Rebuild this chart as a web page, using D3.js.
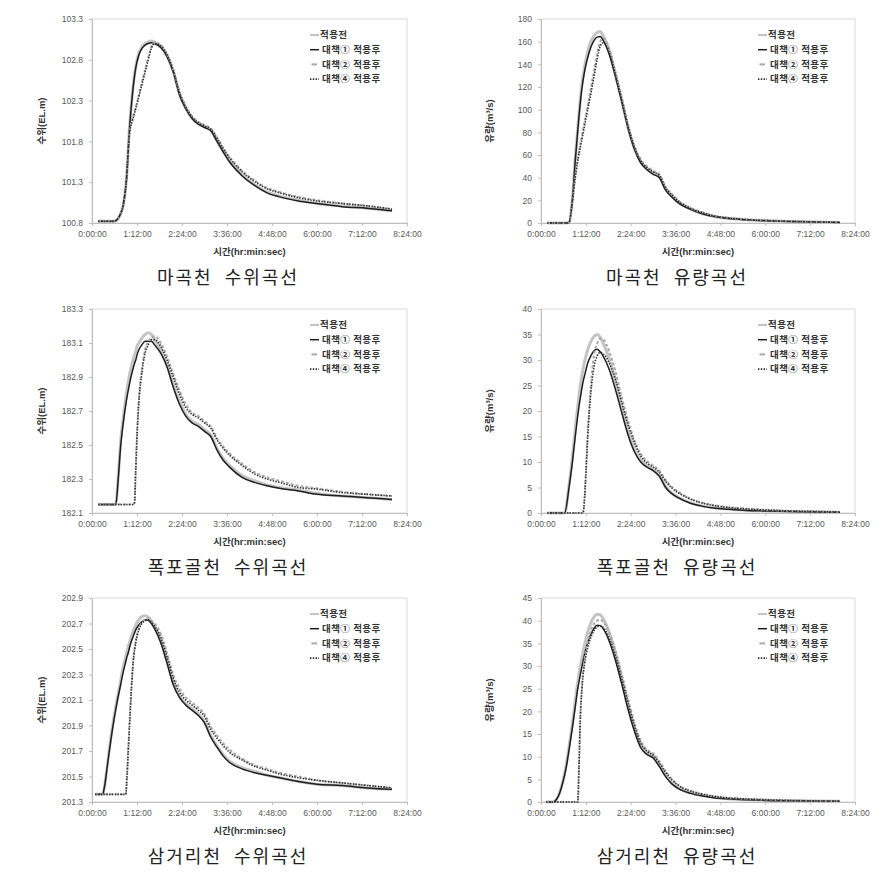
<!DOCTYPE html>
<html>
<head>
<meta charset="utf-8">
<script src="https://cdn.jsdelivr.net/npm/d3@7"></script>
<style>
  body { margin: 0; background: #fff; }
  svg { display: block; font-family: "Liberation Sans", Arial, "Noto Sans CJK KR", sans-serif; }
</style>
</head>
<body>
<div id="main"></div>
<script>
// series names (legend)
const seriesNames = ["적용전", "대책① 적용후", "대책② 적용후", "대책④ 적용후"];

// x axis: minutes, tick every 1:12:00
const xTicks = [0, 72, 144, 216, 288, 360, 432, 504];

// ---- 마곡천 수위 ----
const magokWlTime = [10, 35, 40, 45, 50, 55, 60, 65, 70, 75, 80, 85, 90, 95, 100, 110, 120, 130, 140, 150, 160, 170, 180, 190, 200, 210, 220, 240, 260, 280, 300, 330, 360, 400, 440, 480];
const magokWlBefore = [100.82, 100.82, 100.84, 100.9, 101.02, 101.33, 101.97, 102.42, 102.72, 102.88, 102.96, 103.0, 103.02, 103.03, 103.02, 102.97, 102.86, 102.66, 102.38, 102.21, 102.09, 102.02, 101.98, 101.94, 101.81, 101.68, 101.56, 101.39, 101.27, 101.18, 101.13, 101.08, 101.04, 101.01, 100.98, 100.95];
const magokWlAlt1 = [100.82, 100.82, 100.84, 100.9, 101.02, 101.32, 101.95, 102.4, 102.7, 102.86, 102.94, 102.98, 103.0, 103.01, 103.0, 102.95, 102.84, 102.65, 102.37, 102.2, 102.08, 102.01, 101.97, 101.93, 101.8, 101.67, 101.55, 101.38, 101.26, 101.17, 101.12, 101.07, 101.04, 101.0, 100.98, 100.95];
const magokWlAlt2 = [100.82, 100.82, 100.84, 100.9, 101.02, 101.32, 101.92, 102.08, 102.22, 102.37, 102.53, 102.68, 102.83, 102.96, 103.01, 102.98, 102.87, 102.68, 102.41, 102.23, 102.11, 102.04, 102.0, 101.96, 101.85, 101.72, 101.61, 101.44, 101.32, 101.23, 101.18, 101.12, 101.08, 101.04, 101.01, 100.97];
const magokWlAlt4 = [100.82, 100.82, 100.84, 100.9, 101.02, 101.32, 101.9, 102.06, 102.2, 102.35, 102.5, 102.65, 102.8, 102.94, 103.0, 102.97, 102.86, 102.67, 102.4, 102.22, 102.1, 102.03, 101.99, 101.95, 101.84, 101.71, 101.6, 101.43, 101.31, 101.22, 101.17, 101.11, 101.07, 101.04, 101.01, 100.97];
const magokWlTicks = [100.8, 101.3, 101.8, 102.3, 102.8, 103.3];

// ---- 마곡천 유량 ----
const magokQTime = [10, 40, 45, 50, 55, 60, 65, 70, 75, 80, 85, 90, 95, 100, 110, 120, 130, 140, 150, 160, 170, 180, 190, 200, 210, 220, 240, 260, 280, 300, 330, 360, 400, 440, 480];
const magokQBefore = [0, 0, 0.5, 19, 57, 90, 119, 138, 151, 160, 165, 168, 169, 165, 151, 130, 107, 84, 66, 54, 48, 44, 41, 30, 23.5, 18.5, 12.3, 8.2, 5.6, 4.1, 2.9, 2.1, 1.3, 0.8, 0.5];
const magokQAlt1 = [0, 0, 0.5, 18, 55, 88, 116, 134, 146, 155, 161, 164, 164.5, 161, 148, 128, 106, 83, 65, 53, 47, 43, 40, 29, 23, 18, 12, 8, 5.5, 4, 2.8, 2, 1.3, 0.8, 0.5];
const magokQAlt2 = [0, 0, 0.5, 18, 41, 60, 75, 90, 104, 119, 134, 149, 160, 163, 153, 132, 110, 86, 68, 56, 50, 46, 43, 32, 25.5, 20, 13.3, 9.2, 6.2, 4.6, 3.1, 2.3, 1.5, 1, 0.6];
const magokQAlt4 = [0, 0, 0.5, 18, 40, 58, 72, 86, 100, 114, 129, 144, 156, 159, 150, 130, 108, 85, 67, 55, 49, 45, 42, 31, 25, 19.5, 13, 9, 6, 4.5, 3, 2.2, 1.5, 1, 0.6];
const magokQTicks = [0, 20, 40, 60, 80, 100, 120, 140, 160, 180];

// ---- 폭포골천 수위 ----
const pokpoWlTime = [10, 38, 42, 46, 50, 55, 60, 65, 68, 70, 72, 75, 80, 85, 90, 95, 100, 110, 120, 130, 140, 150, 160, 170, 180, 190, 200, 210, 220, 240, 260, 280, 300, 330, 360, 400, 440, 480];
const pokpoWlBefore = [182.15, 182.15, 182.32, 182.53, 182.66, 182.8, 182.91, 182.99, 183.03, 183.05, 183.08, 183.1, 183.13, 183.15, 183.16, 183.15, 183.12, 183.06, 182.97, 182.86, 182.76, 182.68, 182.64, 182.62, 182.59, 182.56, 182.48, 182.42, 182.38, 182.32, 182.29, 182.265, 182.25, 182.235, 182.215, 182.2, 182.19, 182.18];
const pokpoWlAlt1 = [182.15, 182.15, 182.3, 182.5, 182.63, 182.76, 182.86, 182.94, 182.98, 183.0, 183.03, 183.06, 183.09, 183.11, 183.11, 183.11, 183.09, 183.04, 182.96, 182.84, 182.74, 182.67, 182.63, 182.61, 182.58, 182.55, 182.47, 182.41, 182.37, 182.31, 182.28, 182.26, 182.245, 182.23, 182.21, 182.2, 182.19, 182.18];
const pokpoWlAlt2 = [182.15, 182.15, 182.15, 182.15, 182.15, 182.15, 182.15, 182.15, 182.16, 182.36, 182.56, 182.77, 182.95, 183.06, 183.11, 183.13, 183.14, 183.1, 183.02, 182.92, 182.82, 182.74, 182.69, 182.67, 182.64, 182.61, 182.54, 182.49, 182.45, 182.39, 182.34, 182.31, 182.29, 182.26, 182.245, 182.225, 182.21, 182.2];
const pokpoWlAlt4 = [182.15, 182.15, 182.15, 182.15, 182.15, 182.15, 182.15, 182.15, 182.16, 182.35, 182.55, 182.75, 182.93, 183.04, 183.09, 183.12, 183.12, 183.08, 183.0, 182.9, 182.8, 182.72, 182.68, 182.66, 182.63, 182.6, 182.53, 182.48, 182.44, 182.38, 182.33, 182.3, 182.28, 182.25, 182.24, 182.22, 182.21, 182.2];
const pokpoWlTicks = [182.1, 182.3, 182.5, 182.7, 182.9, 183.1, 183.3];

// ---- 폭포골천 유량 ----
const pokpoQTime = [10, 38, 45, 50, 55, 60, 65, 68, 70, 72, 75, 80, 85, 90, 95, 100, 110, 120, 130, 140, 150, 160, 170, 180, 190, 200, 210, 220, 240, 260, 280, 300, 330, 360, 400, 440, 480];
const pokpoQBefore = [0, 0, 5.5, 10.5, 16.5, 22, 26.5, 28.5, 29.7, 30.7, 32, 33.6, 34.6, 35, 34.5, 33.2, 30, 25.5, 20.5, 16, 12.5, 10.4, 9.3, 8.5, 7.4, 5.2, 3.9, 3.1, 2, 1.35, 1, 0.78, 0.52, 0.4, 0.3, 0.2, 0.15];
const pokpoQAlt1 = [0, 0, 5, 9.6, 15, 20, 24, 26, 27, 28, 29.4, 30.8, 31.8, 32.1, 31.6, 30.7, 28, 24, 19.5, 15.2, 12, 10, 9, 8.3, 7.2, 5, 3.8, 3, 1.9, 1.3, 0.95, 0.75, 0.5, 0.4, 0.3, 0.2, 0.15];
const pokpoQAlt2 = [0, 0, 0, 0, 0, 0, 0, 0.3, 3.2, 7.8, 15.5, 25, 31, 33.2, 34.2, 34, 31.5, 27.5, 22.5, 18, 14.3, 11.6, 10.2, 9.3, 8.3, 6.5, 5.1, 4.2, 2.8, 2, 1.5, 1.15, 0.85, 0.6, 0.4, 0.3, 0.2];
const pokpoQAlt4 = [0, 0, 0, 0, 0, 0, 0, 0.3, 3, 7.5, 15, 23.5, 28.6, 30.8, 31.5, 31.2, 29.3, 26, 21.5, 17.2, 13.8, 11.2, 9.8, 9, 8, 6.2, 4.9, 4, 2.7, 1.9, 1.4, 1.1, 0.8, 0.6, 0.4, 0.3, 0.2];
const pokpoQTicks = [0, 5, 10, 15, 20, 25, 30, 35, 40];

// ---- 삼거리천 수위 ----
const samgeoWlTime = [5, 17, 20, 25, 30, 35, 40, 45, 50, 54, 56, 58, 60, 63, 66, 70, 75, 80, 85, 90, 95, 100, 110, 120, 130, 140, 150, 160, 170, 180, 190, 200, 210, 220, 240, 260, 280, 300, 330, 360, 400, 440, 480];
const samgeoWlBefore = [201.36, 201.36, 201.42, 201.61, 201.8, 201.96, 202.1, 202.23, 202.36, 202.44, 202.48, 202.52, 202.55, 202.6, 202.64, 202.69, 202.73, 202.755, 202.76, 202.75, 202.72, 202.68, 202.57, 202.41, 202.24, 202.13, 202.07, 202.03, 201.99, 201.93, 201.82, 201.74, 201.67, 201.62, 201.57, 201.54, 201.51, 201.49, 201.46, 201.44, 201.43, 201.41, 201.4];
const samgeoWlAlt1 = [201.36, 201.36, 201.42, 201.6, 201.78, 201.94, 202.08, 202.2, 202.32, 202.4, 202.44, 202.47, 202.51, 202.56, 202.6, 202.65, 202.69, 202.715, 202.73, 202.725, 202.7, 202.66, 202.55, 202.39, 202.22, 202.12, 202.06, 202.02, 201.98, 201.92, 201.81, 201.73, 201.66, 201.61, 201.56, 201.53, 201.51, 201.49, 201.46, 201.44, 201.43, 201.41, 201.4];
const samgeoWlAlt2 = [201.36, 201.36, 201.36, 201.36, 201.36, 201.36, 201.36, 201.36, 201.36, 201.36, 201.5, 201.71, 201.91, 202.19, 202.41, 202.56, 202.66, 202.71, 202.73, 202.74, 202.72, 202.7, 202.62, 202.47, 202.3, 202.19, 202.12, 202.08, 202.04, 201.99, 201.89, 201.82, 201.76, 201.71, 201.64, 201.59, 201.56, 201.53, 201.5, 201.47, 201.45, 201.43, 201.41];
const samgeoWlAlt4 = [201.36, 201.36, 201.36, 201.36, 201.36, 201.36, 201.36, 201.36, 201.36, 201.36, 201.5, 201.7, 201.9, 202.18, 202.4, 202.55, 202.65, 202.7, 202.72, 202.73, 202.71, 202.68, 202.59, 202.44, 202.27, 202.16, 202.1, 202.06, 202.02, 201.97, 201.87, 201.8, 201.74, 201.69, 201.63, 201.58, 201.55, 201.52, 201.49, 201.47, 201.45, 201.43, 201.41];
const samgeoWlTicks = [201.3, 201.5, 201.7, 201.9, 202.1, 202.3, 202.5, 202.7, 202.9];

// ---- 삼거리천 유량 ----
const samgeoQTime = [8, 20, 25, 30, 35, 40, 45, 50, 55, 59, 61, 63, 66, 70, 75, 80, 85, 90, 95, 100, 110, 120, 130, 140, 150, 160, 170, 180, 190, 200, 210, 220, 240, 260, 280, 300, 330, 360, 400, 440, 480];
const samgeoQBefore = [0, 0, 0.6, 2.1, 4.6, 7.8, 12.2, 17, 22.3, 26.5, 28.2, 29.8, 32, 34.7, 37.5, 39.5, 40.8, 41.4, 41.3, 40.4, 37.2, 32.5, 27, 21.3, 16.3, 12.6, 11, 10.3, 8.2, 5.9, 4.2, 3.1, 2, 1.35, 0.95, 0.72, 0.52, 0.36, 0.26, 0.2, 0.15];
const samgeoQAlt1 = [0, 0, 0.6, 2, 4.3, 7.3, 11.5, 16, 21, 25, 26.5, 28, 30, 32.6, 35.2, 37, 38.3, 39, 38.9, 38.2, 35.3, 31, 25.8, 20.3, 15.6, 12, 10.5, 9.7, 7.8, 5.6, 4, 3, 1.9, 1.3, 0.9, 0.7, 0.5, 0.35, 0.25, 0.2, 0.15];
const samgeoQAlt2 = [0, 0, 0, 0, 0, 0, 0, 0, 0, 0, 8, 18.5, 26, 31.5, 35.3, 37.8, 39.3, 40, 40.2, 39.7, 37.2, 33.2, 28, 22.6, 17.5, 13.5, 11.6, 10.7, 9, 6.8, 5.1, 3.8, 2.5, 1.75, 1.25, 0.92, 0.67, 0.5, 0.35, 0.25, 0.2];
const samgeoQAlt4 = [0, 0, 0, 0, 0, 0, 0, 0, 0, 0, 8, 18, 25.5, 30.5, 34, 36.3, 37.8, 38.6, 38.9, 38.5, 36, 32, 27, 21.8, 16.8, 13, 11.2, 10.3, 8.6, 6.5, 4.9, 3.7, 2.4, 1.7, 1.2, 0.9, 0.65, 0.5, 0.35, 0.25, 0.2];
const samgeoQTicks = [0, 5, 10, 15, 20, 25, 30, 35, 40, 45];

const wlLabel = "수위(EL.m)";
const qLabel = "유량(m\u00B3/s)";

// chart parameters
const width = 893;
const height = 881;
const plotH = 204;
const cols = [{ left: 92, w: 315, capX: 228, titleGap: 50 }, { left: 541, w: 314, capX: 677, titleGap: 51 }];
const rowTops = [19, 309, 598];

// line styles: 적용전, 대책①, 대책②, 대책④
const styles = [
  { stroke: "#c4c4c4", width: 3, dash: null },
  { stroke: "#1e1e1e", width: 1.5, dash: null },
  { stroke: "#a8a8a8", width: 2, dash: "3,2" },
  { stroke: "#2e2e2e", width: 1.6, dash: "1.4,1.4" }
];

const panels = [
  { col: 0, row: 0, t: magokWlTime, s: [magokWlBefore, magokWlAlt1, magokWlAlt2, magokWlAlt4], ticks: magokWlTicks, dec: 1, yLabel: wlLabel, caption: "마곡천  수위곡선" },
  { col: 1, row: 0, t: magokQTime, s: [magokQBefore, magokQAlt1, magokQAlt2, magokQAlt4], ticks: magokQTicks, dec: 0, yLabel: qLabel, caption: "마곡천  유량곡선" },
  { col: 0, row: 1, t: pokpoWlTime, s: [pokpoWlBefore, pokpoWlAlt1, pokpoWlAlt2, pokpoWlAlt4], ticks: pokpoWlTicks, dec: 1, yLabel: wlLabel, caption: "폭포골천  수위곡선" },
  { col: 1, row: 1, t: pokpoQTime, s: [pokpoQBefore, pokpoQAlt1, pokpoQAlt2, pokpoQAlt4], ticks: pokpoQTicks, dec: 0, yLabel: qLabel, caption: "폭포골천  유량곡선" },
  { col: 0, row: 2, t: samgeoWlTime, s: [samgeoWlBefore, samgeoWlAlt1, samgeoWlAlt2, samgeoWlAlt4], ticks: samgeoWlTicks, dec: 1, yLabel: wlLabel, caption: "삼거리천  수위곡선" },
  { col: 1, row: 2, t: samgeoQTime, s: [samgeoQBefore, samgeoQAlt1, samgeoQAlt2, samgeoQAlt4], ticks: samgeoQTicks, dec: 0, yLabel: qLabel, caption: "삼거리천  유량곡선" }
];

const timeFmt = m => `${Math.floor(m / 60)}:${String(m % 60).padStart(2, "0")}:00`;

const svg = d3.select("#main").append("svg")
  .attr("width", width)
  .attr("height", height)
  .style("background", "#fff");

panels.forEach(p => {
  const c = cols[p.col];
  const top = rowTops[p.row];

  const xScale = d3.scaleLinear().domain([0, 504]).range([0, c.w]);
  const yScale = d3.scaleLinear()
    .domain([p.ticks[0], p.ticks[p.ticks.length - 1]])
    .range([plotH, 0]);

  const g = svg.append("g").attr("transform", `translate(${c.left}, ${top})`);

  // plot frame
  g.append("rect")
    .attr("x", 0).attr("y", 0)
    .attr("width", c.w).attr("height", plotH)
    .attr("fill", "none")
    .attr("stroke", "#d9d9d9")
    .attr("stroke-width", 1);

  const xAxis = d3.axisBottom(xScale)
    .tickValues(xTicks)
    .tickFormat(timeFmt)
    .tickSize(3)
    .tickPadding(5);
  g.append("g")
    .attr("transform", `translate(0, ${plotH})`)
    .call(xAxis)
    .call(a => a.select(".domain").attr("stroke", "#bfbfbf"))
    .call(a => a.selectAll(".tick line").attr("stroke", "#bfbfbf"))
    .call(a => a.selectAll(".tick text")
      .attr("fill", "#595959")
      .style("font-size", "8.5px"));

  const yAxis = d3.axisLeft(yScale)
    .tickValues(p.ticks)
    .tickFormat(d => d.toFixed(p.dec))
    .tickSize(3)
    .tickPadding(6);
  g.append("g")
    .call(yAxis)
    .call(a => a.select(".domain").attr("stroke", "#bfbfbf"))
    .call(a => a.selectAll(".tick line").attr("stroke", "#bfbfbf"))
    .call(a => a.selectAll(".tick text")
      .attr("fill", "#595959")
      .style("font-size", "8.5px"));

  // series lines
  [0, 1, 2, 3].forEach(i => {
    const pts = p.t.map((t, k) => [t, p.s[i][k]]);
    const line = d3.line()
      .x(d => xScale(d[0]))
      .y(d => yScale(d[1]))
      .curve(d3.curveMonotoneX);
    g.append("path")
      .datum(pts)
      .attr("d", line)
      .attr("fill", "none")
      .attr("stroke", styles[i].stroke)
      .attr("stroke-width", styles[i].width)
      .attr("stroke-dasharray", styles[i].dash)
      .attr("stroke-linejoin", "round");
  });

  // legend
  const lg = g.append("g").attr("transform", `translate(${c.w - 97}, 16)`);
  seriesNames.forEach((name, i) => {
    const yy = i * 14.7;
    lg.append("line")
      .attr("x1", i === 2 ? 1.5 : 0)
      .attr("x2", i === 2 ? 7 : 9)
      .attr("y1", yy).attr("y2", yy)
      .attr("stroke", styles[i].stroke)
      .attr("stroke-width", i === 0 ? 2 : styles[i].width)
      .attr("stroke-dasharray", i === 3 ? "1.4,1.4" : null);
    lg.append("text")
      .attr("x", i === 0 ? 10 : 12)
      .attr("y", yy)
      .attr("dy", "0.35em")
      .attr("fill", "#333")
      .style("font-size", "9.5px")
      .style("letter-spacing", "0.4px")
      .style("font-weight", "bold")
      .text(name);
  });

  // axis titles
  g.append("text")
    .attr("x", c.w / 2)
    .attr("y", plotH + 32)
    .attr("text-anchor", "middle")
    .attr("fill", "#333")
    .style("font-size", "9.5px")
    .style("font-weight", "bold")
    .text("시간(hr:min:sec)");

  g.append("text")
    .attr("transform", `translate(${-c.titleGap}, ${plotH / 2}) rotate(-90)`)
    .attr("text-anchor", "middle")
    .attr("dy", "0.35em")
    .attr("fill", "#333")
    .style("font-size", "9.5px")
    .style("font-weight", "bold")
    .text(p.yLabel);

  // caption under panel
  svg.append("text")
    .attr("x", c.capX)
    .attr("y", top + plotH + 61)
    .attr("text-anchor", "middle")
    .attr("fill", "#222")
    .style("font-family", "'Noto Sans CJK KR', sans-serif")
    .style("font-size", "18px")
    .style("letter-spacing", "2px")
    .style("white-space", "pre")
    .text(p.caption);
});
</script>
</body>
</html>
